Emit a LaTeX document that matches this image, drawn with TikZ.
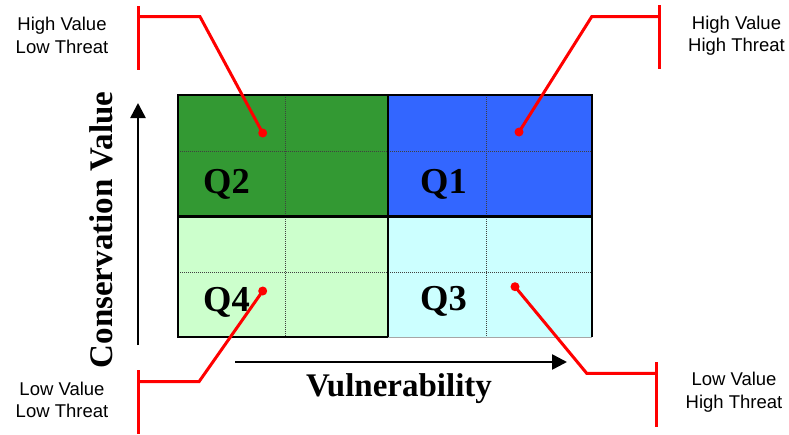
\documentclass[tikz,border=0pt]{standalone}
\usepackage{fontspec}
\setmainfont{Liberation Serif}
\newfontfamily\labelfont{Liberation Sans}
\usetikzlibrary{arrows.meta}
\definecolor{qgreen}{HTML}{339933}
\definecolor{qblue}{HTML}{3366FF}
\definecolor{qlgreen}{HTML}{CCFFCC}
\definecolor{qlcyan}{HTML}{CCFFFF}
\tikzset{
  quad/.style={draw=black, line width=2.2pt},
  gridline/.style={draw=black!75, line width=0.6pt, dash pattern=on 1pt off 1pt},
  qlabel/.style={anchor=base west, inner sep=0pt, font=\fontsize{36.5}{40}\selectfont\bfseries},
  corner/.style={align=center, inner sep=0pt, font=\labelfont\fontsize{18.5}{22.5}\selectfont},
  redline/.style={draw=red, line width=3pt},
  reddot/.style={circle, fill=red, inner sep=0pt, minimum size=9pt},
  axis/.style={draw=black, line width=2.6pt, -{Triangle[length=15pt,width=15pt]}},
  axislabel/.style={inner sep=0pt, font=\fontsize{33}{36}\selectfont\bfseries}
}
\begin{document}
\begin{tikzpicture}[x=1pt,y=-1pt]
\useasboundingbox (0,0) rectangle (789,434);
% quadrant fills
\fill[qgreen] (178,95) rectangle (388,216.5);
\fill[qblue] (388,95) rectangle (592,216.5);
\fill[qlgreen] (178,216.5) rectangle (388,337);
\fill[qlcyan] (388,216.5) rectangle (592,337);
% dotted inner grid
\draw[gridline] (285,95) -- (285,337);
\draw[gridline] (486.5,95) -- (486.5,337);
\draw[gridline] (178,151) -- (592,151);
\draw[gridline] (178,272.5) -- (592,272.5);
% quadrant borders
\draw[quad] (178,95) rectangle (388,216.5);
\draw[quad] (388,95) rectangle (592,216.5);
\draw[quad] (178,216.5) rectangle (388,337);
\draw[black!35, line width=1pt] (388,337) -- (592,337);
\draw[quad] (388,337) -- (388,216.5) -- (592,216.5) -- (592,337);
% quadrant labels
\node[qlabel] (q2) at (203,193.3) {Q2};
\node[qlabel] (q1) at (420,193.3) {Q1};
\node[qlabel] (q4) at (203,311.5) {Q4};
\node[qlabel] (q3) at (420,310.5) {Q3};
% axes
\coordinate (vstart) at (138,345);
\coordinate (vend) at (138,103);
\coordinate (hstart) at (235,362);
\coordinate (hend) at (567,362);
\draw[axis] (vstart) -- (vend);
\draw[axis] (hstart) -- (hend);
\node[axislabel, rotate=90] (cv) at (101,230) {Conservation Value};
\node[axislabel, anchor=base] (vul) at (399,396.7) {Vulnerability};
% corner texts
\node[corner] (tl) at (62,35.5) {High Value\\Low Threat};
\node[corner] (tr) at (736.5,35.5) {High Value\\High Threat};
\node[corner] (bl) at (62,400) {Low Value\\Low Threat};
\node[corner] (br) at (734,392) {Low Value\\High Threat};
% dots
\node[reddot] (d2) at (262.7,133) {};
\node[reddot] (d1) at (519,132) {};
\node[reddot] (d4) at (262.7,291) {};
\node[reddot] (d3) at (515,286.7) {};
% callout coordinates
\coordinate (tlb1) at (138,6);
\coordinate (tlb2) at (138,70);
\coordinate (tlh) at (138,16.7);
\coordinate (tle) at (200,16.7);
\coordinate (trb1) at (659.3,5);
\coordinate (trb2) at (659.3,69);
\coordinate (trh) at (659.3,16.7);
\coordinate (tre) at (591.7,16.7);
\coordinate (blb1) at (138,370);
\coordinate (blb2) at (138,434);
\coordinate (blh) at (138,381.7);
\coordinate (ble) at (199,381.7);
\coordinate (brb1) at (656.7,362);
\coordinate (brb2) at (656.7,427);
\coordinate (brh) at (656.7,373.3);
\coordinate (bre) at (586.7,373.3);
% callouts
\draw[redline] (tlb1) -- (tlb2);
\draw[redline, line join=miter] (tlh) -- (tle) -- (d2.center);
\draw[redline] (trb1) -- (trb2);
\draw[redline, line join=miter] (trh) -- (tre) -- (d1.center);
\draw[redline] (blb1) -- (blb2);
\draw[redline, line join=miter] (blh) -- (ble) -- (d4.center);
\draw[redline] (brb1) -- (brb2);
\draw[redline, line join=miter] (brh) -- (bre) -- (d3.center);
\end{tikzpicture}
\end{document}
